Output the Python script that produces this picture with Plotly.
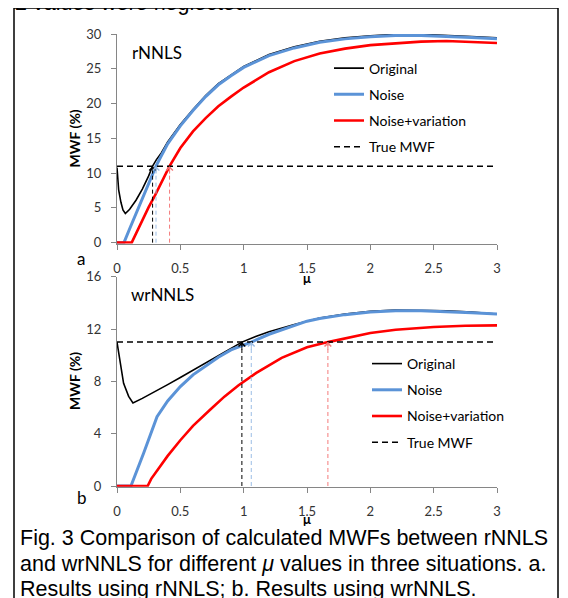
import plotly.graph_objects as go

# ---------------- data ----------------
ticks_mu = [0, 0.5, 1, 1.5, 2, 2.5, 3]
tick_mu_labels = ["0", "0.5", "1", "1.5", "2", "2.5", "3"]
ticks_a = [0, 5, 10, 15, 20, 25, 30]
ticks_b = [0, 4, 8, 12, 16]
true_mwf = 11.0

# panel a (rNNLS)
mu_a_orig = [0, 0.013, 0.031, 0.047, 0.066, 0.1, 0.15, 0.2, 0.25, 0.281, 0.31, 0.35, 0.4, 0.5, 0.6,
             0.7, 0.8, 0.9, 1.0, 1.2, 1.4, 1.6, 1.8, 2.0, 2.2, 2.4, 2.6, 2.8, 3.0]
orig_a = [10.8, 7.6, 5.8, 4.7, 4.2, 4.8, 6.1, 7.7, 9.6, 11.0, 11.9, 12.9, 14.5, 17.0, 19.15,
          21.15, 22.85, 24.15, 25.35, 27.05, 28.15, 28.95, 29.45, 29.75, 29.95, 29.95, 29.85, 29.65, 29.45]
mu_a_noise = [0, 0.055, 0.1, 0.15, 0.2, 0.25, 0.308, 0.35, 0.4, 0.5, 0.6, 0.7, 0.8, 0.9, 1.0,
              1.2, 1.4, 1.6, 1.8, 2.0, 2.2, 2.4, 2.6, 2.8, 3.0]
noise_a = [0, 0, 2.0, 4.2, 6.4, 8.6, 11.0, 12.5, 14.2, 16.8, 19.0, 21.0, 22.7, 24.0, 25.2,
           26.9, 28.0, 28.8, 29.3, 29.6, 29.8, 29.8, 29.7, 29.5, 29.3]
mu_a_nv = [0, 0.116, 0.15, 0.2, 0.25, 0.3, 0.35, 0.415, 0.5, 0.6, 0.7, 0.8, 0.9, 1.0, 1.2,
           1.4, 1.6, 1.8, 2.0, 2.2, 2.4, 2.6, 2.8, 3.0]
nv_a = [0, 0, 1.3, 3.3, 5.1, 6.8, 8.6, 11.0, 13.6, 16.0, 17.9, 19.6, 21.0, 22.3, 24.5,
        26.1, 27.2, 27.9, 28.4, 28.7, 28.9, 29.0, 28.9, 28.7]
cross_a = [0.281, 0.308, 0.415]

# panel b (wrNNLS)
mu_b_orig = [0, 0.026, 0.052, 0.092, 0.126, 0.2, 0.3, 0.4, 0.5, 0.6, 0.7, 0.8, 0.9, 0.986, 1.1,
             1.2, 1.4, 1.6, 1.8, 2.0, 2.2, 2.4, 2.6, 2.8, 3.0]
orig_b = [11.0, 9.4, 7.85, 6.85, 6.35, 6.7, 7.2, 7.75, 8.3, 8.85, 9.4, 9.95, 10.5, 11.0, 11.45,
          11.8, 12.35, 12.85, 13.15, 13.35, 13.45, 13.45, 13.4, 13.3, 13.15]
mu_b_noise = [0, 0.11, 0.21, 0.316, 0.4, 0.5, 0.6, 0.7, 0.8, 0.9, 1.06, 1.2, 1.4, 1.5, 1.6,
              1.8, 2.0, 2.2, 2.4, 2.6, 2.8, 3.0]
noise_b = [0, 0, 2.5, 5.3, 6.5, 7.6, 8.5, 9.2, 9.85, 10.4, 11.0, 11.6, 12.3, 12.6, 12.8,
           13.1, 13.3, 13.4, 13.4, 13.35, 13.25, 13.15]
mu_b_nv = [0, 0.242, 0.27, 0.316, 0.4, 0.5, 0.6, 0.737, 0.85, 0.96, 1.1, 1.3, 1.5, 1.665, 1.8,
           2.0, 2.2, 2.5, 2.75, 3.0]
nv_b = [0, 0, 0.55, 1.2, 2.3, 3.5, 4.6, 5.85, 6.85, 7.7, 8.65, 9.8, 10.6, 11.0, 11.3,
        11.7, 11.95, 12.15, 12.25, 12.28]
cross_b = [0.986, 1.06, 1.665]

series_names = ["Original", "Noise", "Noise+variation", "True MWF"]

# ---------------- styling ----------------
W, H = 568, 598
OX, OY = 8, 8   # the page body adds an 8px offset; compensate
C_BLACK = "#000000"
C_BLUE = "#5b93d7"
C_RED = "#ff0000"
ARROW_COLORS = ["#000000", "#9bbde6", "#f47a7a"]
AXIS_GRAY = "#868686"
FONT = "Lato"

def px(x):
    return (x - OX) / W

def py(y):
    return (H - (y - OY)) / H

fig = go.Figure()

def add_panel(xa, ya, leg, mus, vals, crosses):
    widths = [1.6, 3.0, 2.6]
    colors = [C_BLACK, C_BLUE, C_RED]
    for i in range(3):
        fig.add_trace(go.Scatter(
            x=mus[i], y=vals[i], mode="lines", name=series_names[i],
            line=dict(color=colors[i], width=widths[i]),
            xaxis=xa, yaxis=ya, legend=leg, legendgroup=leg + str(i),
            hoverinfo="skip"))
    fig.add_trace(go.Scatter(
        x=[ticks_mu[0], ticks_mu[-1]], y=[true_mwf, true_mwf], mode="lines",
        name=series_names[3], line=dict(color=C_BLACK, width=1.5, dash="6px,4px"),
        xaxis=xa, yaxis=ya, legend=leg, legendgroup=leg + "3", hoverinfo="skip"))
    for c, col in zip(crosses, ARROW_COLORS):
        fig.add_trace(go.Scatter(
            x=[c, c], y=[0, true_mwf], mode="lines", showlegend=False,
            line=dict(color=col, width=1, dash="4px,3px"),
            xaxis=xa, yaxis=ya, hoverinfo="skip"))
        fig.add_annotation(x=c, y=true_mwf, xref=xa, yref=ya, text="",
                           showarrow=True, arrowhead=4, arrowsize=1.3,
                           arrowwidth=1, arrowcolor=col, ax=0, ay=9, standoff=0)

add_panel("x", "y", "legend",
          [mu_a_orig, mu_a_noise, mu_a_nv], [orig_a, noise_a, nv_a], cross_a)
add_panel("x2", "y2", "legend2",
          [mu_b_orig, mu_b_noise, mu_b_nv], [orig_b, noise_b, nv_b], cross_b)

axis_common = dict(showline=True, linecolor=AXIS_GRAY, linewidth=1, showgrid=False,
                   zeroline=False, ticks="outside", ticklen=5, tickcolor=AXIS_GRAY,
                   automargin=False,
                   tickfont=dict(family=FONT, size=13, color="#333333"))

xdom = [px(117), px(497)]
fig.update_layout(
    width=W, height=H, margin=dict(l=0, r=0, t=0, b=0, pad=0, autoexpand=False),
    paper_bgcolor="white", plot_bgcolor="white",
    xaxis=dict(domain=xdom, anchor="y", range=[0, 3], tickvals=ticks_mu,
               ticktext=tick_mu_labels, ticklabelstandoff=8, **axis_common),
    yaxis=dict(domain=[py(243.5), py(34)], anchor="x", range=[-0.12, 30],
               tickvals=ticks_a, ticklabelstandoff=7, **axis_common),
    xaxis2=dict(domain=xdom, anchor="y2", range=[0, 3], tickvals=ticks_mu,
                ticktext=tick_mu_labels, ticklabelstandoff=8, **axis_common),
    yaxis2=dict(domain=[py(486.85), py(276.7)], anchor="x2", range=[-0.065, 16],
                tickvals=ticks_b, ticklabelstandoff=7, **axis_common),
    legend=dict(x=px(329), y=py(52.5), xanchor="left", yanchor="top",
                bgcolor="rgba(0,0,0,0)", itemwidth=30, traceorder="grouped",
                tracegroupgap=5, font=dict(family=FONT, size=14, color="black")),
    legend2=dict(x=px(367), y=py(348), xanchor="left", yanchor="top",
                 bgcolor="rgba(0,0,0,0)", itemwidth=30, traceorder="grouped",
                 tracegroupgap=5, font=dict(family=FONT, size=14, color="black")),
    showlegend=True,
)

def note(text, x, y, size, xanchor="center", angle=0, family=FONT, bold=False):
    fig.add_annotation(xref="paper", yref="paper", x=px(x), y=py(y), text=("<b>%s</b>" % text) if bold else text,
                       showarrow=False, xanchor=xanchor, yanchor="middle", textangle=angle,
                       font=dict(family=family, size=size, color="black"))

note("rNNLS", 130, 53, 17, xanchor="left")
note("wrNNLS", 129, 294, 17, xanchor="left")
note("a", 81, 258, 17)
note("b", 82, 497, 17)
note("MWF (%)", 74, 138.4, 14, angle=-90, bold=True)
note("MWF (%)", 75, 381, 14, angle=-90, bold=True)
note("μ", 307, 278, 13, bold=True)
note("μ", 307, 519, 13, bold=True)

CAP = "Liberation Sans"
CAPSIZE = 21.5
note("2 values were neglected.", 13, 3, CAPSIZE, xanchor="left", family=CAP)
note("Fig. 3 Comparison of calculated MWFs between rNNLS", 18, 538, CAPSIZE, xanchor="left", family=CAP)
note("and wrNNLS for different <i>μ</i> values in three situations. a.", 18, 563.5, CAPSIZE, xanchor="left", family=CAP)
note("Results using rNNLS; b. Results using wrNNLS.", 18, 589, CAPSIZE, xanchor="left", family=CAP)

fig.add_shape(type="rect", xref="paper", yref="paper", x0=px(14), x1=px(558),
              y0=py(640), y1=py(8), line=dict(color="black", width=1.5))

fig.write_html("out.html")
